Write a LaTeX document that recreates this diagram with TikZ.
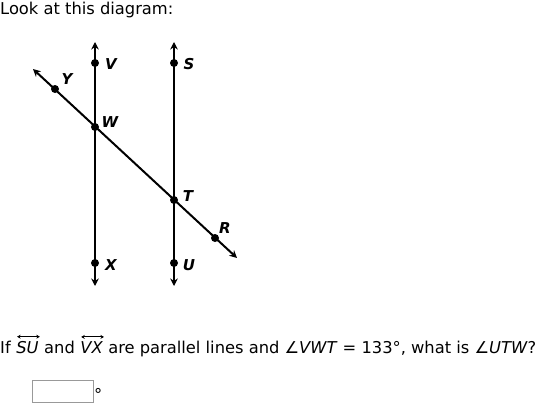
\documentclass[tikz,border=0pt]{standalone}
\usepackage{fontspec}
\setmainfont{DejaVu Sans}
\usetikzlibrary{arrows.meta}
\begin{document}
\begin{tikzpicture}[x=1pt,y=-1pt,
  ln/.style={line width=2pt,{Stealth[length=7.5pt,width=7.5pt]}-{Stealth[length=7.5pt,width=7.5pt]}},
  dot/.style={circle,fill=black,inner sep=0pt,minimum size=8pt},
  lbl/.style={font=\fontsize{15}{17}\selectfont\bfseries\itshape,inner sep=0pt},
  q/.style={font=\fontsize{16.3}{19}\selectfont,inner sep=0pt,anchor=base west},
  ovar/.style={line width=0.9pt,{Stealth[length=3.5pt,width=4pt]}-{Stealth[length=3.5pt,width=4pt]}},
  ansbox/.style={draw=black!40,line width=1pt}]
\useasboundingbox (0,0) rectangle (538,404);
% text
\node[q] (title) at (0,15) {Look at this diagram:};
% line ends
\coordinate (vt) at (95,42);
\coordinate (vb) at (95,286);
\coordinate (st) at (174,42);
\coordinate (sb) at (174,286);
\coordinate (dl) at (33,69);
\coordinate (dr) at (237,258);
\draw[ln] (vt) -- (vb);
\draw[ln] (st) -- (sb);
\draw[ln] (dl) -- (dr);
% points
\node[dot] (V) at (95,63) {};
\node[dot] (W) at (95,127) {};
\node[dot] (X) at (95,263) {};
\node[dot] (S) at (174,63) {};
\node[dot] (T) at (174,200) {};
\node[dot] (U) at (174,263) {};
\node[dot] (Y) at (55,89) {};
\node[dot] (R) at (215,238) {};
% labels
\node[lbl] (lV) at (111,64) {V};
\node[lbl] (lS) at (189,64) {S};
\node[lbl] (lY) at (67,79) {Y};
\node[lbl] (lW) at (110,122) {W};
\node[lbl] (lT) at (188,196) {T};
\node[lbl] (lR) at (225,228) {R};
\node[lbl] (lX) at (111,265) {X};
\node[lbl] (lU) at (189,265) {U};
% question
\node[q] (q1) at (0,353) {If\ \mbox{}};
\node[q] (q2) at (q1.base east) {\itshape SU};
\node[q] (q3) at (q2.base east) {\ and\ \mbox{}};
\node[q] (q4) at (q3.base east) {\itshape VX};
\node[q] (q5) at (q4.base east) {\ are parallel lines and ∠\textit{VWT} = 133°, what is ∠\textit{UTW}?};
\coordinate (a1) at ([xshift=1pt,yshift=4pt]q2.north west);
\coordinate (a2) at ([xshift=1pt,yshift=4pt]q2.north east);
\coordinate (a3) at ([xshift=1pt,yshift=4pt]q4.north west);
\coordinate (a4) at ([xshift=1pt,yshift=4pt]q4.north east);
\draw[ovar] (a1) -- (a2);
\draw[ovar] (a3) -- (a4);
% answer box
\draw[ansbox] (32,380) rectangle (93,402);
\node[q] (deg) at (94,400) {°};
\end{tikzpicture}
\end{document}
